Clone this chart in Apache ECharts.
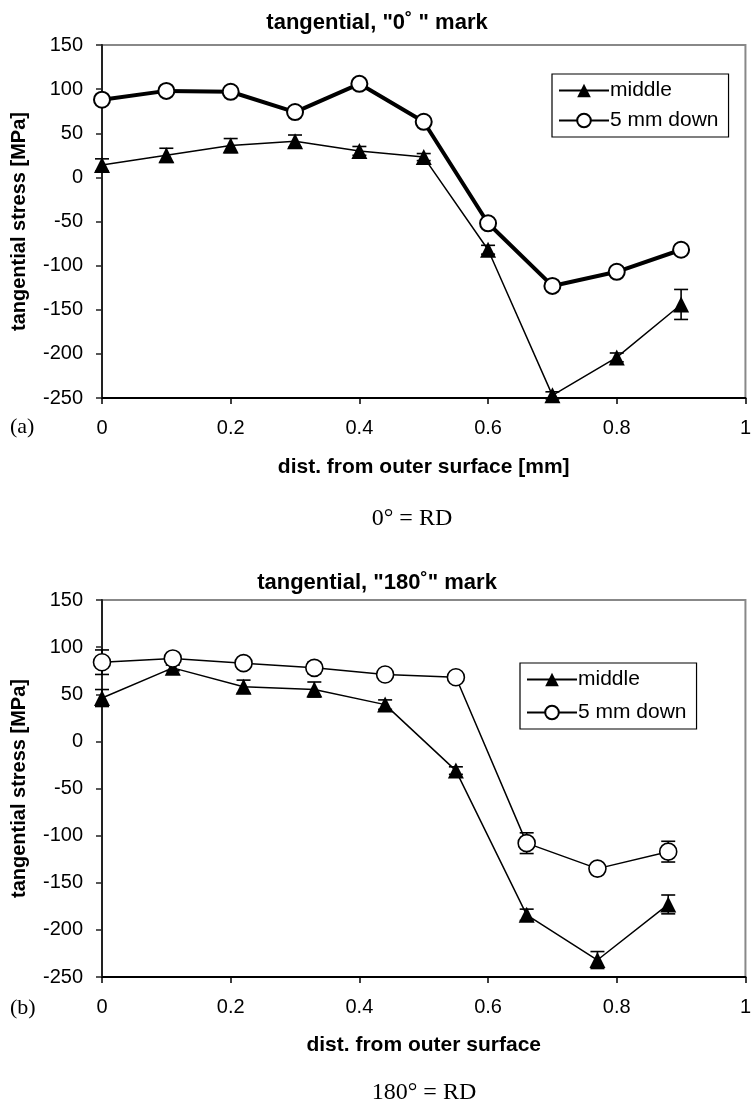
<!DOCTYPE html>
<html>
<head>
<meta charset="utf-8">
<script src="https://cdn.jsdelivr.net/npm/echarts@6/dist/echarts.min.js"></script>
<style>
	html, body { margin: 0; padding: 0; background: #fff; }
	#chart { width: 754px; height: 1106px; }
</style>
</head>
<body>
<div id="chart"></div>
<script>
// (a) tangential, "0°" mark
var xTop = [0, 0.1, 0.2, 0.3, 0.4, 0.5, 0.6, 0.7, 0.8, 0.9];
var midTop = [14, 25, 36, 41, 30, 23, -82, -247, -204, -144];
var midTopErr = [7, 8, 8, 7, 5, 4, 5, 4, 5, 17];
var downTop = [88, 98, 97, 74, 106, 63, -52, -123, -107, -82];
var downTopErr = [3, 3, 3, 3, 3, 3, 3, 3, 5, 5];

// (b) tangential, "180°" mark
var xBot = [0, 0.11, 0.22, 0.33, 0.44, 0.55, 0.66, 0.77, 0.88];
var midBot = [46, 78, 58, 55, 39, -31, -184, -232, -173];
var midBotErr = [9, 3, 7, 8, 5, 4, 6, 9, 10];
var downBot = [84, 88, 83, 78, 71, 68, -108, -135, -117];
var downBotErr = [13, 4, 4, 6, 2, 2, 11, 5, 11];

var yTicks = [-250, 150, 50];  // min, max, interval
var xTicks = [0, 1, 0.2];

var sans = '"Liberation Sans", Arial, sans-serif';
var serif = '"Liberation Serif", "Times New Roman", serif';

function pairs(xs, ys) {
	var out = [];
	for (var i = 0; i < xs.length; i++) out.push([xs[i], ys[i]]);
	return out;
}
function errData(xs, ys, es) {
	var out = [];
	for (var i = 0; i < xs.length; i++) out.push([xs[i], ys[i] - es[i], ys[i] + es[i]]);
	return out;
}
function errSeries(idx, key, data) {
	return {
		type: 'custom',
		name: 'err_' + key,
		xAxisIndex: idx,
		yAxisIndex: idx,
		z: 1,
		silent: true,
		data: data,
		encode: { x: 0, y: [1, 2] },
		renderItem: function(params, api) {
			var lo = api.coord([api.value(0), api.value(1)]);
			var hi = api.coord([api.value(0), api.value(2)]);
			var w = 7;
			var st = { stroke: '#000', lineWidth: 1.6 };
			return {
				type: 'group',
				children: [
					{ type: 'line', shape: { x1: lo[0], y1: lo[1], x2: hi[0], y2: hi[1] }, style: st },
					{ type: 'line', shape: { x1: lo[0] - w, y1: lo[1], x2: lo[0] + w, y2: lo[1] }, style: st },
					{ type: 'line', shape: { x1: hi[0] - w, y1: hi[1], x2: hi[0] + w, y2: hi[1] }, style: st }
				]
			};
		}
	};
}

function xAxisOf(idx, name, gap) {
	return {
		gridIndex: idx,
		type: 'value',
		min: xTicks[0],
		max: xTicks[1],
		interval: xTicks[2],
		name: name,
		nameLocation: 'middle',
		nameGap: gap,
		nameTextStyle: { fontFamily: sans, fontWeight: 'bold', fontSize: 21, color: '#000' },
		axisLine: { onZero: false, lineStyle: { color: '#000', width: 2 } },
		axisTick: { show: true, length: 6, lineStyle: { color: '#000', width: 1.5 } },
		axisLabel: { margin: 20, fontFamily: sans, fontSize: 20, color: '#000' },
		splitLine: { show: false }
	};
}
function yAxisOf(idx) {
	return {
		gridIndex: idx,
		type: 'value',
		min: yTicks[0],
		max: yTicks[1],
		interval: yTicks[2],
		name: 'tangential stress [MPa]',
		nameLocation: 'middle',
		nameGap: 73,
		nameTextStyle: { fontFamily: sans, fontWeight: 'bold', fontSize: 20, color: '#000' },
		axisLine: { lineStyle: { color: '#222', width: 2 } },
		axisTick: { show: true, length: 6, lineStyle: { color: '#222', width: 1.5 } },
		axisLabel: { margin: 19, fontFamily: sans, fontSize: 20, color: '#000' },
		splitLine: { show: false }
	};
}

function legendOf(left, top, names, gap) {
	return {
		orient: 'vertical',
		left: left,
		top: top,
		data: names,
		backgroundColor: '#fff',
		borderColor: '#000',
		borderWidth: 1.2,
		borderRadius: 0,
		padding: [6, 10, 6, 6],
		itemGap: gap,
		itemWidth: 50,
		itemHeight: 17,
		selectedMode: false,
		textStyle: { fontFamily: sans, fontSize: 21, color: '#000', padding: [0, 0, 0, -4] },
		formatter: function(name) { return name.replace('_b', ''); }
	};
}

var myChart = echarts.init(document.getElementById('chart'));

var option = {
	animation: false,
	backgroundColor: '#fff',
	title: [{
		text: 'tangential, "0˚ " mark',
		left: 'center',
		top: 7,
		textStyle: { fontFamily: sans, fontWeight: 'bold', fontSize: 22, color: '#000' }
	}, {
		text: 'tangential, "180˚" mark',
		left: 'center',
		top: 567,
		textStyle: { fontFamily: sans, fontWeight: 'bold', fontSize: 22, color: '#000' }
	}],
	legend: [
		legendOf(552, 74, ['middle', '5 mm down'], 9),
		legendOf(520, 663, ['middle_b', '5 mm down_b'], 12)
	],
	grid: [{
		left: 102, right: 1, top: 45, bottom: 708,
		show: true, borderColor: '#888', borderWidth: 2, backgroundColor: 'transparent'
	}, {
		left: 102, right: 5, top: 600, bottom: 129,
		show: true, borderColor: '#888', borderWidth: 2, backgroundColor: 'transparent'
	}],
	xAxis: [
		xAxisOf(0, 'dist. from outer surface [mm]', 59),
		xAxisOf(1, 'dist. from outer surface', 58)
	],
	yAxis: [yAxisOf(0), yAxisOf(1)],
	graphic: [
		{ type: 'text', left: 10, top: 416, style: { text: '(a)', font: '22px ' + serif, fill: '#000' } },
		{ type: 'text', left: 10, top: 997, style: { text: '(b)', font: '22px ' + serif, fill: '#000' } },
		{ type: 'text', x: 412, y: 519, style: { text: '0° = RD', font: '24px ' + serif, fill: '#000', align: 'center', verticalAlign: 'middle' } },
		{ type: 'text', x: 424, y: 1093, style: { text: '180° = RD', font: '24px ' + serif, fill: '#000', align: 'center', verticalAlign: 'middle' } }
	],
	series: [
		errSeries(0, 'a1', errData(xTop, midTop, midTopErr)),
		errSeries(0, 'a2', errData(xTop, downTop, downTopErr)),
		errSeries(1, 'b1', errData(xBot, midBot, midBotErr)),
		errSeries(1, 'b2', errData(xBot, downBot, downBotErr)),
		{
			name: 'middle',
			type: 'line',
			xAxisIndex: 0, yAxisIndex: 0, z: 3,
			data: pairs(xTop, midTop),
			symbol: 'triangle', symbolSize: 16,
			lineStyle: { color: '#000', width: 1.5 },
			itemStyle: { color: '#000', borderColor: '#000', borderWidth: 0 }
		},
		{
			name: '5 mm down',
			type: 'line',
			xAxisIndex: 0, yAxisIndex: 0, z: 3,
			data: pairs(xTop, downTop),
			symbol: 'circle', symbolSize: 16,
			lineStyle: { color: '#000', width: 4 },
			itemStyle: { color: '#fff', borderColor: '#000', borderWidth: 2 }
		},
		{
			name: 'middle_b',
			type: 'line',
			xAxisIndex: 1, yAxisIndex: 1, z: 3,
			data: pairs(xBot, midBot),
			symbol: 'triangle', symbolSize: 16,
			lineStyle: { color: '#000', width: 1.5 },
			itemStyle: { color: '#000', borderColor: '#000', borderWidth: 0 }
		},
		{
			name: '5 mm down_b',
			type: 'line',
			xAxisIndex: 1, yAxisIndex: 1, z: 3,
			data: pairs(xBot, downBot),
			symbol: 'circle', symbolSize: 17,
			lineStyle: { color: '#000', width: 1.5 },
			itemStyle: { color: '#fff', borderColor: '#000', borderWidth: 1.6 }
		}
	]
};
myChart.setOption(option);

window.addEventListener('resize', function() {
	myChart.resize();
});
</script>
</body>
</html>
